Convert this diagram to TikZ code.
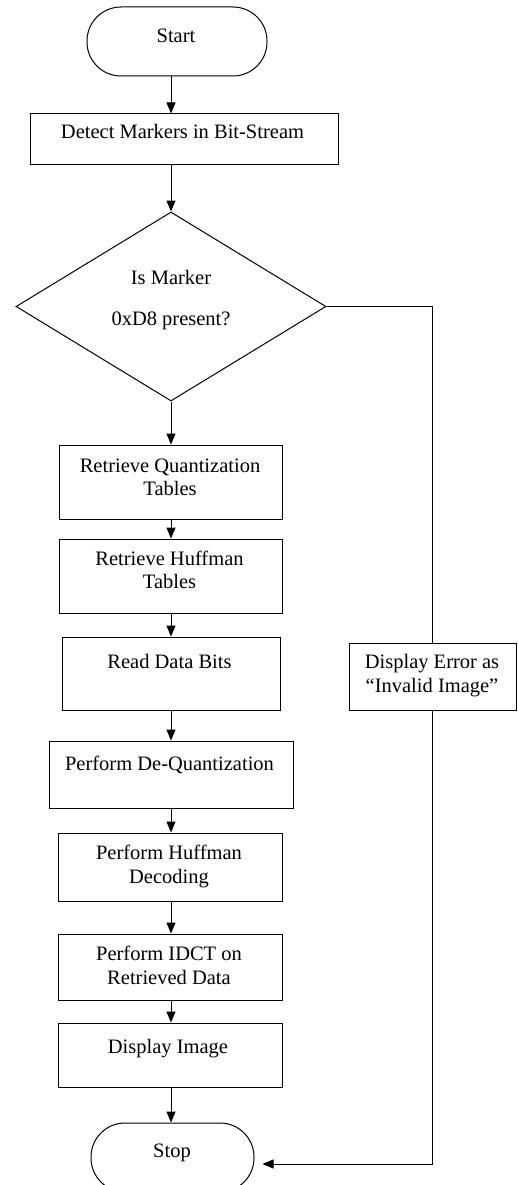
\documentclass[tikz,border=0pt]{standalone}
\usepackage{fontspec}
\setmainfont{Liberation Serif}
\usetikzlibrary{arrows.meta,shapes.geometric}
\begin{document}
\begin{tikzpicture}[x=1pt,y=-1pt,
  line width=1pt,
  box/.style={draw,rectangle,inner sep=0pt,minimum width=#1},
  term/.style={draw,rectangle,rounded corners=34pt,inner sep=0pt,minimum height=69pt},
  dec/.style={draw,diamond,inner sep=0pt,minimum width=310pt,minimum height=189pt},
  txt/.style={anchor=base,inner sep=0pt,font=\fontsize{20.5}{24}\selectfont},
  arr/.style={-{Triangle[length=11pt,width=9pt]}},
  ln/.style={-}]
\useasboundingbox (0,0) rectangle (517,1185);
% shapes
\node[term,minimum width=180pt] (start) at (177,41.5) {};
\node[box=308pt,minimum height=51pt] (detect) at (184,139.5) {};
\node[dec] (dia) at (171,306.5) {};
\node[box=223pt,minimum height=74pt] (qt) at (170.5,482) {};
\node[box=223pt,minimum height=74pt] (ht) at (170.5,576) {};
\node[box=218pt,minimum height=73pt] (rd) at (171,673.5) {};
\node[box=244pt,minimum height=67pt] (dq) at (171,774.5) {};
\node[box=224pt,minimum height=68pt] (hd) at (170,867) {};
\node[box=224pt,minimum height=66pt] (idct) at (170,967) {};
\node[box=224pt,minimum height=64pt] (disp) at (170,1055) {};
\node[term,minimum width=163pt] (stop) at (172.5,1157.5) {};
\node[box=167pt,minimum height=67pt] (err) at (432.5,676.5) {};
% texts
\node[txt] (tstart) at (176,43) {Start};
\node[txt] (tdetect) at (182.5,139) {Detect Markers in Bit-Stream};
\node[txt] (tdia1) at (171,284) {Is Marker};
\node[txt] (tdia2) at (171,325) {0xD8 present?};
\node[txt] (tqt1) at (170,472) {Retrieve Quantization};
\node[txt] (tqt2) at (170,495) {Tables};
\node[txt] (tht1) at (169.5,565) {Retrieve Huffman};
\node[txt] (tht2) at (169.5,588) {Tables};
\node[txt] (trd) at (169.5,668) {Read Data Bits};
\node[txt] (terr1) at (432,668) {Display Error as};
\node[txt] (terr2) at (432,692) {“Invalid Image”};
\node[txt] (tdq) at (169.5,770) {Perform De-Quantization};
\node[txt] (thd1) at (169,859) {Perform Huffman};
\node[txt] (thd2) at (169,883) {Decoding};
\node[txt] (tidct1) at (169,960) {Perform IDCT on};
\node[txt] (tidct2) at (169,984) {Retrieved Data};
\node[txt] (tdisp) at (168,1053) {Display Image};
\node[txt] (tstop) at (172,1157) {Stop};
% connectors
\coordinate (ax) at (171,0);
\draw[arr] (start.south -| ax) -- (detect.north -| ax);
\draw[arr] (detect.south -| ax) -- (dia.north -| ax);
\draw[arr] (dia.south -| ax) -- (qt.north -| ax);
\draw[arr] (qt.south -| ax) -- (ht.north -| ax);
\draw[arr] (ht.south -| ax) -- (rd.north -| ax);
\draw[arr] (rd.south -| ax) -- (dq.north -| ax);
\draw[arr] (dq.south -| ax) -- (hd.north -| ax);
\draw[arr] (hd.south -| ax) -- (idct.north -| ax);
\draw[arr] (idct.south -| ax) -- (disp.north -| ax);
\draw[arr] (disp.south -| ax) -- (stop.north -| ax);
\draw[ln] (dia.east) -| (err.north);
\draw[arr] (err.south) |- ([xshift=8pt,yshift=-6.5pt]stop.east);
\end{tikzpicture}
\end{document}
